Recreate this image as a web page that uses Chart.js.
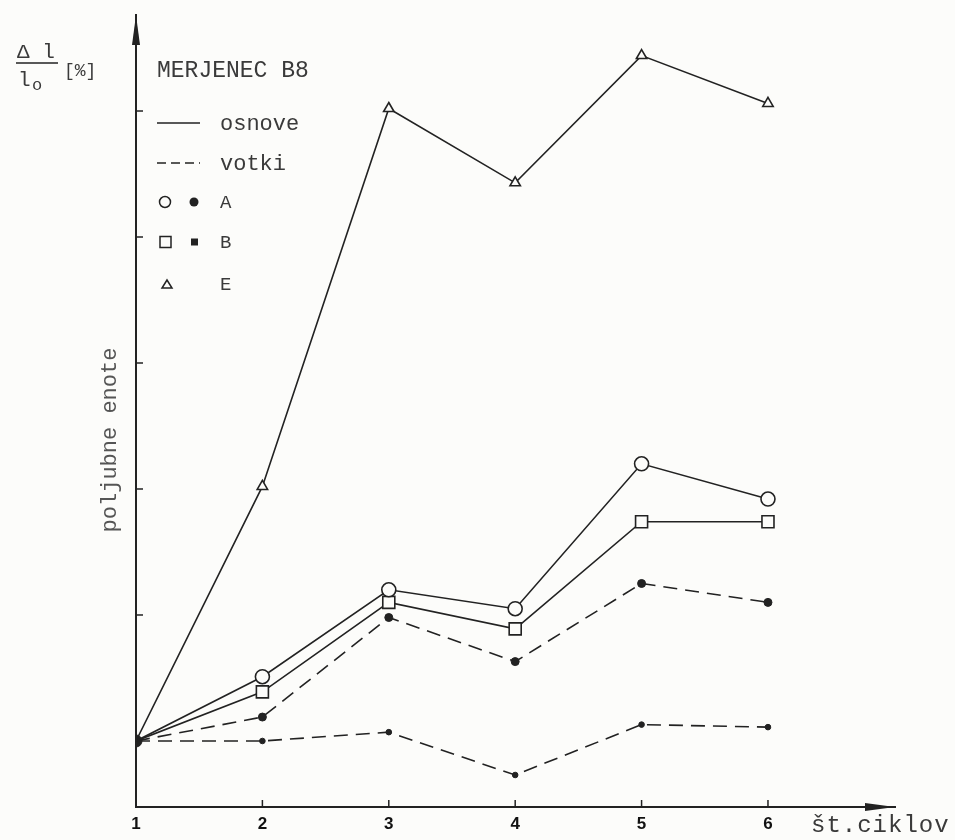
<!DOCTYPE html>
<html>
<head>
<meta charset="utf-8">
<script src="https://cdn.jsdelivr.net/npm/chart.js@4.4.1/dist/chart.umd.min.js"></script>
<style>
  html, body { margin: 0; padding: 0; background: #fcfcfa; }
  #wrap { width: 955px; height: 840px; position: relative; }
</style>
</head>
<body>
<div id="wrap"><canvas id="c" width="955" height="840"></canvas></div>
<script>
// ---- data ----
const categories = [1, 2, 3, 4, 5, 6];            // št. ciklov
const eOsnove = [0, 2.02, 5.02, 4.43, 5.44, 5.06];
const aOsnove = [0, 0.51, 1.20, 1.05, 2.20, 1.92];
const bOsnove = [0, 0.39, 1.10, 0.89, 1.74, 1.74];
const aVotki  = [0, 0.19, 0.98, 0.63, 1.25, 1.10];
const bVotki  = [0, 0.00, 0.07, -0.27, 0.13, 0.11];
const yTicks  = [1, 2, 3, 4, 5];
const xTitle = 'št.ciklov';
const yTitle = 'poljubne enote';
const legendTitle = 'MERJENEC B8';
const legendLines = ['osnove', 'votki'];
const legendMarks = ['A', 'B', 'E'];

const INK = '#222';
const TXT = '#3a3a3a';
const MONO = '"Liberation Mono", "DejaVu Sans Mono", monospace';
const DASH = [14, 8];

function pts(arr) { return categories.map((c, i) => ({ x: c, y: arr[i] })); }

const firstHidden = (r) => (ctx) => ctx.dataIndex === 0 ? 0 : r;

const datasets = [
  { label: 'E osnove', data: pts(eOsnove), borderColor: INK, borderWidth: 1.6,
    pointStyle: 'triangle', pointRadius: firstHidden(6), pointBackgroundColor: '#fcfcfa',
    pointBorderColor: INK, pointBorderWidth: 1.6 },
  { label: 'A osnove', data: pts(aOsnove), borderColor: INK, borderWidth: 1.6,
    pointStyle: 'circle', pointRadius: firstHidden(7), pointBackgroundColor: '#fcfcfa',
    pointBorderColor: INK, pointBorderWidth: 1.6 },
  { label: 'B osnove', data: pts(bOsnove), borderColor: INK, borderWidth: 1.6,
    pointStyle: 'rect', pointRadius: firstHidden(8.5), pointBackgroundColor: '#fcfcfa',
    pointBorderColor: INK, pointBorderWidth: 1.6 },
  { label: 'A votki', data: pts(aVotki), borderColor: INK, borderWidth: 1.6, borderDash: DASH,
    pointStyle: 'circle', pointRadius: (ctx) => ctx.dataIndex === 0 ? 6 : 4,
    pointBackgroundColor: INK, pointBorderColor: INK, pointBorderWidth: 1 },
  { label: 'B votki', data: pts(bVotki), borderColor: INK, borderWidth: 1.6, borderDash: DASH,
    pointStyle: 'circle', pointRadius: 2.8,
    pointBackgroundColor: INK, pointBorderColor: INK, pointBorderWidth: 1 }
];

const decor = {
  id: 'decor',
  beforeDraw(chart) {
    const c = chart.ctx;
    c.save();
    c.fillStyle = '#fcfcfa';
    c.fillRect(0, 0, chart.width, chart.height);
    c.restore();
  },
  afterDraw(chart) {
    const c = chart.ctx;
    const xs = chart.scales.x, ys = chart.scales.y;
    const a = chart.chartArea;
    c.save();
    c.fillStyle = INK; c.strokeStyle = INK;
    // arrow heads
    c.beginPath();
    c.moveTo(a.left, a.top); c.lineTo(a.left - 4, a.top + 30); c.lineTo(a.left + 4, a.top + 30); c.closePath(); c.fill();
    c.beginPath();
    c.moveTo(a.right, a.bottom); c.lineTo(a.right - 30, a.bottom - 4); c.lineTo(a.right - 30, a.bottom + 4); c.closePath(); c.fill();
    // inward tick marks
    c.lineWidth = 1.5;
    yTicks.forEach(v => {
      const y = ys.getPixelForValue(v);
      c.beginPath(); c.moveTo(a.left, y); c.lineTo(a.left + 7, y); c.stroke();
    });
    categories.slice(1).forEach(v => {
      const x = xs.getPixelForValue(v);
      c.beginPath(); c.moveTo(x, a.bottom); c.lineTo(x, a.bottom - 7); c.stroke();
    });
    // axis titles
    c.fillStyle = TXT;
    c.font = '24px ' + MONO;
    c.letterSpacing = '1px';
    c.textBaseline = 'alphabetic'; c.textAlign = 'left';
    c.fillText(xTitle, 811, 832);
    c.letterSpacing = '0px';
    c.save();
    c.translate(116, 440);
    c.rotate(-Math.PI / 2);
    c.textAlign = 'center';
    c.fillStyle = '#555';
    c.font = '22px ' + MONO;
    c.fillText(yTitle, 0, 0);
    c.restore();
    // Δl / l_o [%]
    c.font = '21px ' + MONO;
    c.textAlign = 'left';
    c.fillText('\u0394 l', 17, 58);
    c.lineWidth = 1.3;
    c.beginPath(); c.moveTo(16, 63); c.lineTo(58, 63); c.stroke();
    c.fillText('l', 18, 86);
    c.font = '17px ' + MONO;
    c.fillText('o', 32, 90);
    c.font = '18px ' + MONO;
    c.fillText('[%]', 64, 76);
    // legend
    c.font = '23px ' + MONO;
    c.textBaseline = 'middle';
    c.fillText(legendTitle, 157, 71);
    c.font = '22px ' + MONO;
    c.fillText(legendLines[0], 220, 124);
    c.fillText(legendLines[1], 220, 164);
    c.lineWidth = 1.6; c.strokeStyle = INK;
    c.beginPath(); c.moveTo(157, 123); c.lineTo(200, 123); c.stroke();
    c.setLineDash([9, 5]);
    c.beginPath(); c.moveTo(157, 163); c.lineTo(200, 163); c.stroke();
    c.setLineDash([]);
    c.font = '19px ' + MONO;
    const rows = [202, 242, 284];
    legendMarks.forEach((m, i) => c.fillText(m, 220, rows[i] + 1));
    c.lineWidth = 1.5;
    // A markers
    c.beginPath(); c.arc(165, rows[0], 5.5, 0, Math.PI * 2); c.stroke();
    c.beginPath(); c.arc(194, rows[0], 4.5, 0, Math.PI * 2); c.fillStyle = INK; c.fill();
    // B markers
    c.strokeRect(160, rows[1] - 5.5, 11, 11);
    c.fillRect(191, rows[1] - 3.5, 7, 7);
    // E marker
    c.beginPath(); c.moveTo(167, rows[2] - 4); c.lineTo(162, rows[2] + 4); c.lineTo(172, rows[2] + 4); c.closePath(); c.stroke();
    c.restore();
  }
};

new Chart(document.getElementById('c'), {
  type: 'line',
  data: { datasets },
  options: {
    responsive: false,
    animation: false,
    events: [],
    layout: { padding: { top: 15, right: 60, left: 0, bottom: 0 } },
    plugins: { legend: { display: false }, tooltip: { enabled: false } },
    elements: { line: { tension: 0 } },
    scales: {
      x: {
        type: 'linear', min: 1, max: 7.005,
        afterBuildTicks: (s) => { s.ticks = categories.map(v => ({ value: v })); },
        afterFit: (s) => { s.height = 33; },
        grid: { display: false, drawTicks: false },
        border: { display: true, color: INK, width: 2 },
        ticks: { color: '#111', padding: 7, font: { family: '"Liberation Sans", Arial, sans-serif', size: 17, weight: 'bold' } }
      },
      y: {
        type: 'linear', min: -0.524, max: 5.762,
        afterFit: (s) => { s.width = 136; },
        grid: { display: false, drawTicks: false },
        border: { display: true, color: INK, width: 2 },
        ticks: { display: false }
      }
    }
  },
  plugins: [decor]
});
</script>
</body>
</html>
